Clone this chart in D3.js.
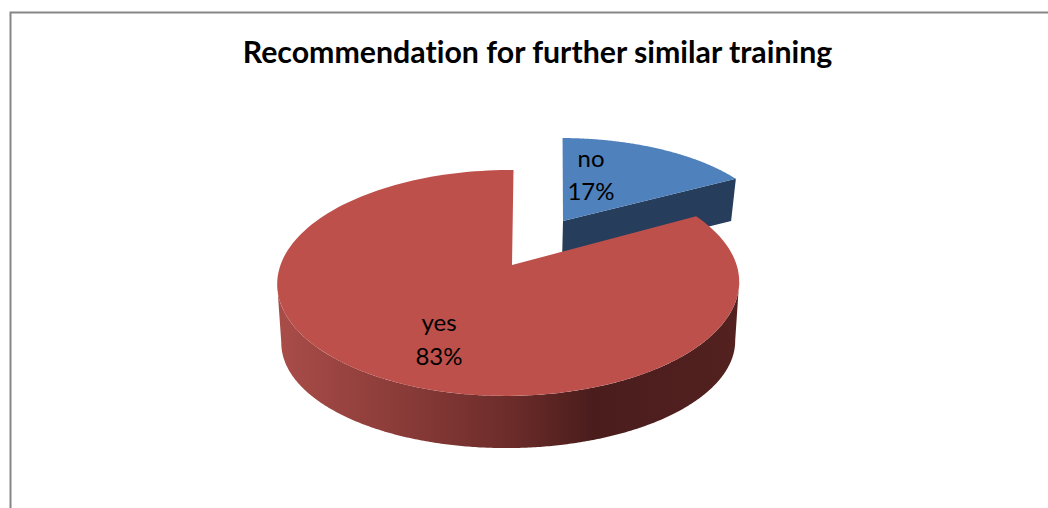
<!DOCTYPE html>
<html><head><meta charset="utf-8">
<script src="https://cdnjs.cloudflare.com/ajax/libs/d3/7.8.5/d3.min.js"></script>
<style>html,body{margin:0;padding:0;background:#fff}svg{display:block}text{font-family:Lato,"Open Sans",sans-serif;fill:#000;font-variant-ligatures:none}</style>
</head><body><svg id="c" width="1048" height="508"></svg>
<script>
const categories = ["no", "yes"];
const values = [17, 83];
const percentLabels = ["17%", "83%"];
const chartTitle = "Recommendation for further similar training";

const svg = d3.select("#c");
const W = 1048, H = 508;
svg.append("rect").attr("width", W).attr("height", H).attr("fill", "#fff");
svg.append("path").attr("d", `M10.5,${H}V12.5H${W}`).attr("fill", "none").attr("stroke", "#868686").attr("stroke-width", 2);

const defs = svg.append("defs");
const grad = defs.append("linearGradient").attr("id", "redSide").attr("gradientUnits", "userSpaceOnUse")
  .attr("x1", 283).attr("x2", 737).attr("y1", 0).attr("y2", 0);
[[0, "#a84c48"], [0.12, "#9a4441"], [0.3, "#853936"], [0.5, "#6c2c2a"], [0.68, "#4a1d1c"], [1, "#522120"]]
  .forEach(([o, c]) => grad.append("stop").attr("offset", o).attr("stop-color", c));

// Perspective projection of the unit pie disc onto the page
function projector(p) {
  return t => {
    const u = Math.sin(t), v = -Math.cos(t);
    const w = 1 + p.k * v + p.m * u;
    return [p.x0 + (p.b * u + p.c * v) / w, p.y0 + (p.a * v) / w];
  };
}
const rings = {
  no:  { top: projector({x0:563, y0:221, a:94.2, b:212.6, c:0.5, k:-0.135, m:0.013}),
         bottom: projector({x0:562, y0:263, a:94, b:208, c:0.5, k:-0.135, m:0.013}) },
  yes: { top: projector({x0:512, y0:265, a:110.1, b:228, c:-1.74, k:-0.159, m:0.0151}),
         bottom: projector({x0:512, y0:325, a:103.5, b:224, c:-1.74, k:-0.159, m:0.0151}) }
};

const pieData = d3.pie().sort(null).startAngle(0).endAngle(2 * Math.PI)(values);
const line = d3.line();
const sample = (a0, a1, n = 160) => d3.range(n + 1).map(i => a0 + (a1 - a0) * i / n);
const sliceD = (fn, a0, a1, apex) => line([apex, ...sample(a0, a1).map(fn)]) + "Z";
const rad = d => d * Math.PI / 180;

// The front arc of a ring, between its rightmost and leftmost points
const frontArc = fn => {
  const pts = sample(rad(45), rad(315), 540).map(fn);
  const r = d3.greatestIndex(pts, d => d[0]), l = d3.leastIndex(pts, d => d[0]);
  return pts.slice(r, l + 1);
};
const wallD = (top, bot) => line([...frontArc(top), ...frontArc(bot).reverse()]) + "Z";

const no = pieData[0], yes = pieData[1];
const gNo = svg.append("g"), gYes = svg.append("g");

// blue slice: cut face, then top
const apexNo = [563, 221], apexNoB = [562, 263];
gNo.append("path").attr("d", line([apexNo, rings.no.top(no.endAngle), rings.no.bottom(no.endAngle), apexNoB]) + "Z")
  .attr("fill", "#263d5b");
gNo.append("path").attr("d", sliceD(rings.no.top, no.startAngle, no.endAngle, apexNo)).attr("fill", "#4f81bd");

// red slice: curved wall, then top
gYes.append("path").attr("d", wallD(rings.yes.top, rings.yes.bottom)).attr("fill", "url(#redSide)");
gYes.append("path").attr("d", sliceD(rings.yes.top, yes.startAngle, yes.endAngle, [512, 265])).attr("fill", "#be504c");

// texts
svg.append("text").attr("x", 537.5).attr("y", 63).attr("text-anchor", "middle")
  .attr("font-size", 30.3).attr("font-weight", 700).text(chartTitle);
const labelPos = { no: [591, 167, 200], yes: [439, 331, 365] };
categories.forEach((c, i) => {
  const [x, y1, y2] = labelPos[c];
  svg.append("text").attr("x", x).attr("y", y1).attr("text-anchor", "middle").attr("font-size", 24).text(c);
  svg.append("text").attr("x", x).attr("y", y2).attr("text-anchor", "middle").attr("font-size", 24).text(percentLabels[i]);
});
</script></body></html>
